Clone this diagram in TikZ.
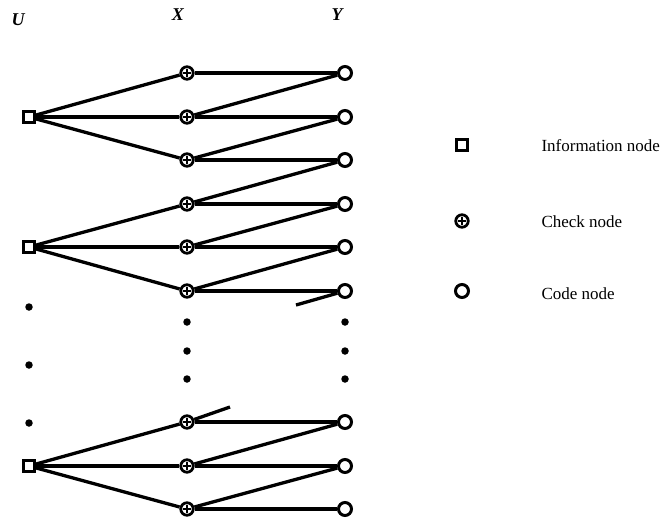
\documentclass[tikz,border=0pt]{standalone}
\usepackage{fontspec}
\setmainfont{Liberation Serif}
\begin{document}
\begin{tikzpicture}[x=1pt,y=-1pt,
  info/.style={draw, line width=3pt, minimum size=11pt, inner sep=0pt, fill=white},
  chk/.style={circle, draw, line width=2.8pt, minimum size=12.5pt, inner sep=0pt, fill=white,
    path picture={\draw[line width=1.7pt]
      ([xshift=-3.8pt]path picture bounding box.center) -- ([xshift=3.8pt]path picture bounding box.center)
      ([yshift=-3.8pt]path picture bounding box.center) -- ([yshift=3.8pt]path picture bounding box.center);}},
  code/.style={circle, draw, line width=3pt, minimum size=13pt, inner sep=0pt, fill=white},
  edge/.style={line width=3.3pt},
  dot/.style={circle, fill, minimum size=7.5pt, inner sep=0pt},
  hdr/.style={font=\fontsize{18}{20}\selectfont\bfseries\itshape},
  lbl/.style={font=\fontsize{17}{20}\selectfont, anchor=west}
]
\useasboundingbox (0,0) rectangle (664,520);
% headers
\node[hdr] (hU) at (18,20) {U};
\node[hdr] (hX) at (178,15) {X};
\node[hdr] (hY) at (337,15) {Y};
% information nodes
\node[info] (U1) at (29,117) {};
\node[info] (U2) at (29,247) {};
\node[info] (U3) at (29,466) {};
% check and code nodes
\foreach \i/\y in {1/73,2/117,3/160,4/204,5/247,6/291,7/422,8/466,9/509}{
  \node[chk] (X\i) at (187,\y) {};
  \node[code] (Y\i) at (345,\y) {};
}
% stubs
\coordinate (s1) at (296,305);
\coordinate (s2) at (230,407);
% edges U -> X
\foreach \u/\a/\b/\c in {U1/X1/X2/X3,U2/X4/X5/X6,U3/X7/X8/X9}{
  \draw[edge] (\u) -- (\a);
  \draw[edge] (\u) -- (\b);
  \draw[edge] (\u) -- (\c);
}
% edges X -> Y
\foreach \i in {1,...,9}{ \draw[edge] (X\i) -- (Y\i); }
\foreach \i/\j in {2/1,3/2,4/3,5/4,6/5,8/7,9/8}{ \draw[edge] (X\i) -- (Y\j); }
\draw[edge] (Y6) -- (s1);
\draw[edge] (X7) -- (s2);
% dots
\node[dot] (d1) at (29,307) {};
\node[dot] (d2) at (29,365) {};
\node[dot] (d3) at (29,423) {};
\node[dot] (d4) at (187,322) {};
\node[dot] (d5) at (187,351) {};
\node[dot] (d6) at (187,379) {};
\node[dot] (d7) at (345,322) {};
\node[dot] (d8) at (345,351) {};
\node[dot] (d9) at (345,379) {};
% legend
\node[info] (Li) at (462,145) {};
\node[chk] (Lc) at (462,221) {};
\node[code] (Lo) at (462,291) {};
\node[lbl] (ti) at (538,146) {Information node};
\node[lbl] (tc) at (538,222) {Check node};
\node[lbl] (to) at (538,294) {Code node};
\end{tikzpicture}
\end{document}
